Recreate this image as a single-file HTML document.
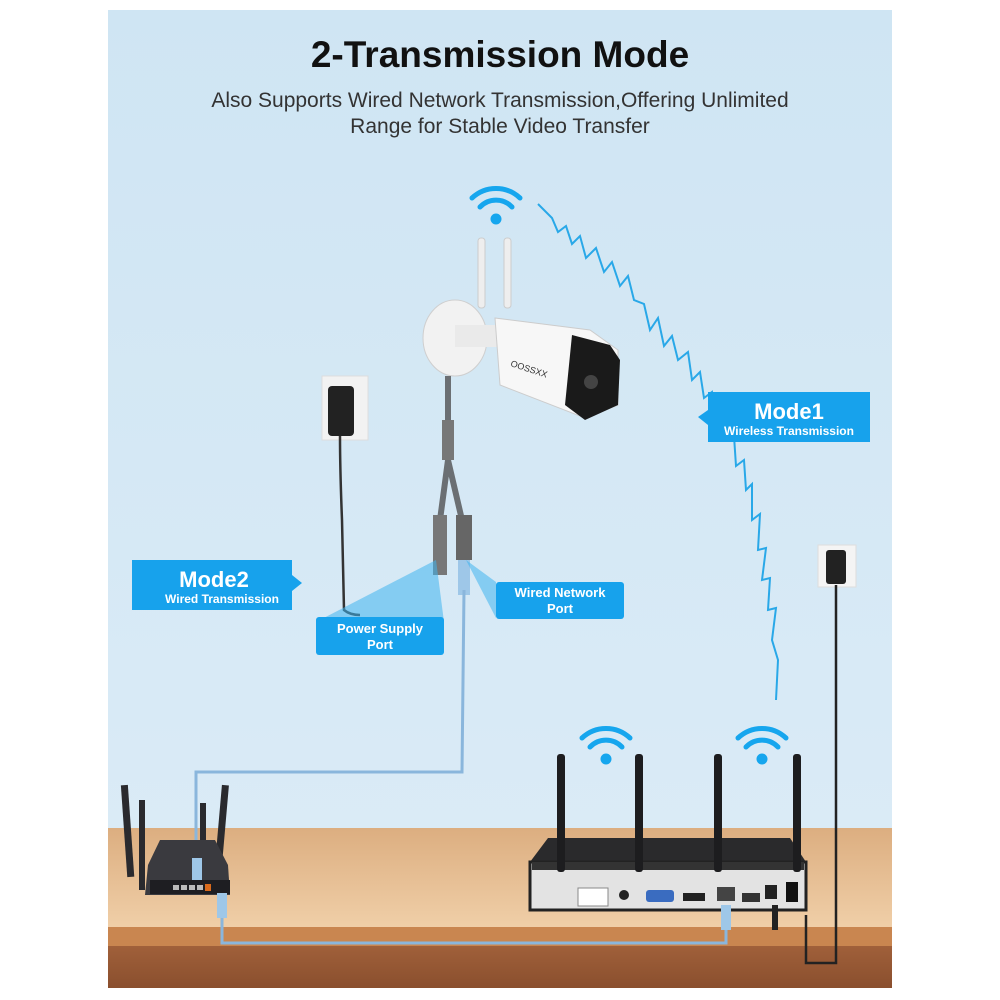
<!DOCTYPE html>
<html><head><meta charset="utf-8"><style>
html,body{margin:0;padding:0;background:#fff}
svg{display:block}
text{font-family:"Liberation Sans","DejaVu Sans",sans-serif}
</style></head><body>
<svg width="1000" height="1000" viewBox="0 0 1000 1000">
<defs>
<linearGradient id="bg" x1="0" y1="0" x2="0" y2="1"><stop offset="0" stop-color="#cfe5f3"/><stop offset="1" stop-color="#dcecf7"/></linearGradient>
<linearGradient id="wood" x1="0" y1="0" x2="0" y2="1"><stop offset="0" stop-color="#dcae80"/><stop offset="1" stop-color="#f0cfa8"/></linearGradient>
<linearGradient id="front" x1="0" y1="0" x2="0" y2="1"><stop offset="0" stop-color="#a0603a"/><stop offset="1" stop-color="#8a4f2e"/></linearGradient>
</defs>
<rect x="0" y="0" width="1000" height="1000" fill="#fff"/>
<rect x="108" y="10" width="784" height="978" fill="url(#bg)"/>
<!-- table -->
<rect x="108" y="828" width="784" height="100" fill="url(#wood)"/>
<rect x="108" y="927" width="784" height="20" fill="#c98650"/>
<rect x="108" y="946" width="784" height="42" fill="url(#front)"/>

<text x="500" y="67" text-anchor="middle" font-size="37" font-weight="bold" fill="#111">2-Transmission Mode</text>
<text x="500" y="107" text-anchor="middle" font-size="21" fill="#333">Also Supports Wired Network Transmission,Offering Unlimited</text>
<text x="500" y="133" text-anchor="middle" font-size="21" fill="#333">Range for Stable Video Transfer</text>

<!-- wifi icons -->
<g fill="none" stroke="#16a6ee" stroke-width="5" stroke-linecap="round">
<path d="M472 198 a35 35 0 0 1 48 0"/><path d="M480 207 a22 22 0 0 1 32 0"/><circle cx="496" cy="219" r="3" fill="#16a6ee"/>
<path d="M582 738 a35 35 0 0 1 48 0"/><path d="M590 747 a22 22 0 0 1 32 0"/><circle cx="606" cy="759" r="3" fill="#16a6ee"/>
<path d="M738 738 a35 35 0 0 1 48 0"/><path d="M746 747 a22 22 0 0 1 32 0"/><circle cx="762" cy="759" r="3" fill="#16a6ee"/>
</g>
<!-- wireless zigzag -->
<polyline fill="none" stroke="#29a8e8" stroke-width="2" points="538,204 552,218 558,232 566,226 572,244 580,236 586,258 596,248 604,272 612,262 620,286 628,276 634,300 644,304 650,330 658,318 664,346 672,336 678,360 688,352 692,380 700,372 704,398 712,392 716,420 724,414 726,440 734,436 736,466 744,460 746,490 752,484 752,520 760,514 758,550 766,548 762,580 770,578 768,610 776,608 772,640 778,660 776,700"/>

<!-- camera -->
<rect x="478" y="238" width="7" height="70" rx="3" fill="#eee" stroke="#ccc"/>
<rect x="504" y="238" width="7" height="70" rx="3" fill="#eee" stroke="#ccc"/>
<ellipse cx="455" cy="338" rx="32" ry="38" fill="#f2f2f2" stroke="#cfcfcf"/>
<rect x="455" y="325" width="45" height="22" fill="#eaeaea"/>
<path d="M495 318 L590 330 L618 350 L618 405 L585 418 L500 385 Z" fill="#f7f7f7" stroke="#ccc"/>
<path d="M572 335 L610 345 L620 360 L618 405 L585 420 L565 405 Z" fill="#1a1a1a"/>
<text x="510" y="366" font-size="9" fill="#333" transform="rotate(18 510 366)" font-family="Liberation Serif">OOSSXX</text>
<circle cx="591" cy="382" r="7" fill="#444"/>
<!-- cable -->
<path d="M448 376 L448 460 M448 460 L440 520 M448 460 L462 520" stroke="#6b6f73" stroke-width="6" fill="none"/>
<rect x="442" y="420" width="12" height="40" fill="#777"/>
<rect x="433" y="515" width="14" height="60" fill="#777"/>
<rect x="456" y="515" width="16" height="45" fill="#666"/>
<rect x="458" y="560" width="12" height="35" fill="#9ec7e8"/>
<!-- wall plug left -->
<rect x="322" y="376" width="46" height="64" fill="#f2f2f2" stroke="#ddd"/>
<rect x="328" y="386" width="26" height="50" rx="4" fill="#222"/>
<path d="M340 436 Q340 470 342 520 L344 610 Q350 615 360 615" stroke="#333" stroke-width="2.5" fill="none"/>
<!-- callout beams -->
<path d="M436 560 L316 622 L444 622 Z" fill="#3fb4ee" opacity="0.55"/>
<path d="M466 560 L496 582 L496 618 Z" fill="#3fb4ee" opacity="0.55"/>
<!-- wired blue line -->
<path d="M464 590 L462 772 L196 772 L196 860" stroke="#8ab6dc" stroke-width="3" fill="none"/>
<path d="M222 880 L222 943 L726 943 L726 885" stroke="#8ab6dc" stroke-width="3" fill="none"/>
<!-- labels -->
<path d="M708 392 L870 392 L870 442 L708 442 L708 425 L698 417 L708 410 Z" fill="#17a2ec"/>
<text x="789" y="419" text-anchor="middle" font-size="22" font-weight="bold" fill="#fff">Mode1</text>
<text x="789" y="435" text-anchor="middle" font-size="12" font-weight="bold" fill="#fff">Wireless Transmission</text>
<path d="M132 560 L292 560 L292 575 L302 583 L292 591 L292 610 L132 610 Z" fill="#17a2ec"/>
<text x="214" y="587" text-anchor="middle" font-size="22" font-weight="bold" fill="#fff">Mode2</text>
<text x="222" y="603" text-anchor="middle" font-size="12" font-weight="bold" fill="#fff">Wired Transmission</text>
<rect x="316" y="617" width="128" height="38" rx="3" fill="#17a2ec"/>
<text x="380" y="633" text-anchor="middle" font-size="13" font-weight="bold" fill="#fff">Power Supply</text>
<text x="380" y="649" text-anchor="middle" font-size="13" font-weight="bold" fill="#fff">Port</text>
<rect x="496" y="582" width="128" height="37" rx="3" fill="#17a2ec"/>
<text x="560" y="597" text-anchor="middle" font-size="13" font-weight="bold" fill="#fff">Wired Network</text>
<text x="560" y="613" text-anchor="middle" font-size="13" font-weight="bold" fill="#fff">Port</text>

<!-- right plug -->
<rect x="818" y="545" width="38" height="42" fill="#f4f4f4" stroke="#ddd"/>
<rect x="826" y="550" width="20" height="34" rx="3" fill="#222"/>
<path d="M836 585 L836 963 L806 963 L806 915" stroke="#222" stroke-width="2.5" fill="none"/>

<!-- router -->
<g fill="#2a2a2e">
<rect x="124" y="785" width="7" height="92" transform="rotate(-4 127 830)"/>
<rect x="139" y="800" width="6" height="90"/>
<rect x="200" y="803" width="6" height="85"/>
<rect x="218" y="785" width="7" height="90" transform="rotate(5 221 830)"/>
<path d="M160 840 L215 840 L228 865 L230 895 L145 895 L148 865 Z" fill="#3a3a3f"/>
</g>
<rect x="150" y="880" width="80" height="14" fill="#1e1e22"/>
<rect x="173" y="885" width="6" height="5" fill="#bbb"/><rect x="181" y="885" width="6" height="5" fill="#bbb"/><rect x="189" y="885" width="6" height="5" fill="#bbb"/><rect x="197" y="885" width="6" height="5" fill="#bbb"/>
<rect x="205" y="884" width="6" height="7" fill="#d96a1c"/>
<rect x="192" y="858" width="10" height="22" fill="#9ec7e8"/>
<rect x="217" y="893" width="10" height="25" fill="#9ec7e8"/>

<!-- NVR -""-->
<path d="M548 838 L790 838 L806 862 L530 862 Z" fill="#2a2a2c"/>
<rect x="530" y="862" width="276" height="48" fill="#e3e3e3" stroke="#222" stroke-width="3"/>
<rect x="532" y="862" width="272" height="8" fill="#333"/>
<rect x="413" y="0" width="0" height="0"/>
<rect x="413" y="0" width="0" height="0"/>
<rect x="412" y="0" width="0" height="0"/>
<rect x="413" y="0" width="0" height="0"/>
<g fill="#1d1d1f">
<rect x="557" y="754" width="8" height="118" rx="3"/>
<rect x="635" y="754" width="8" height="118" rx="3"/>
<rect x="714" y="754" width="8" height="118" rx="3"/>
<rect x="793" y="754" width="8" height="118" rx="3"/>
</g>
<rect x="578" y="888" width="30" height="18" fill="#fff" stroke="#888"/>
<circle cx="624" cy="895" r="5" fill="#222"/>
<rect x="646" y="890" width="28" height="12" rx="3" fill="#3a6cc0"/>
<rect x="683" y="893" width="22" height="8" fill="#222"/>
<rect x="717" y="887" width="18" height="14" fill="#444"/>
<rect x="742" y="893" width="18" height="9" fill="#333"/>
<rect x="765" y="885" width="12" height="14" fill="#222"/>
<rect x="786" y="882" width="12" height="20" fill="#111"/>
<rect x="721" y="905" width="10" height="25" fill="#9ec7e8"/>
<rect x="772" y="905" width="6" height="25" fill="#222"/>
</svg>
</body></html>
